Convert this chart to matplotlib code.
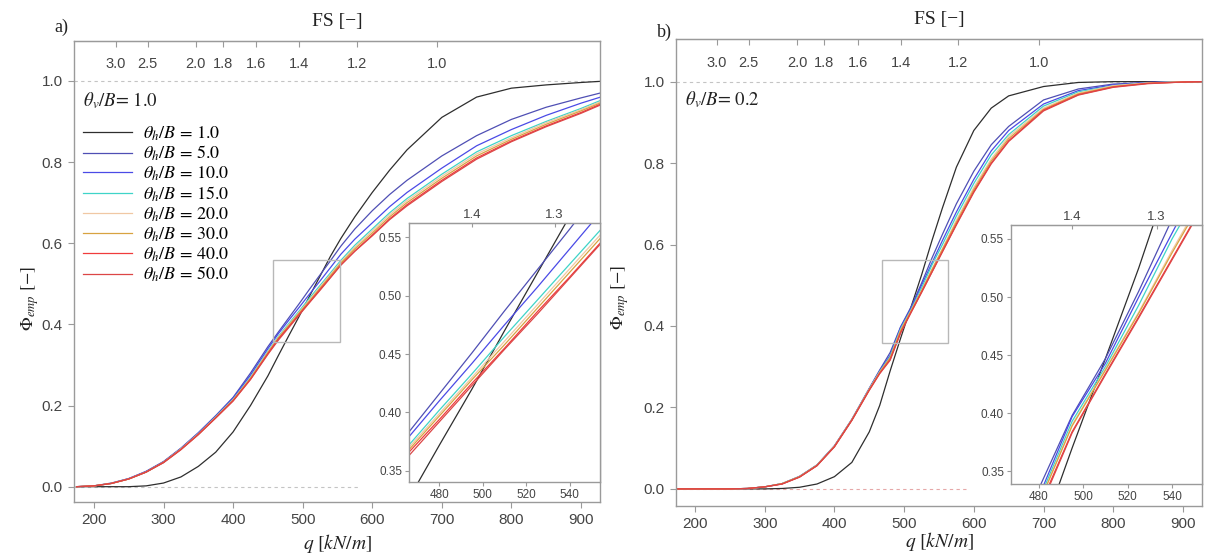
import numpy as np
import matplotlib
matplotlib.use('Agg')
import matplotlib.pyplot as plt
from matplotlib.patches import Rectangle

plt.rcParams['font.family'] = ['Liberation Sans', 'DejaVu Sans']
plt.rcParams['mathtext.fontset'] = 'stix'

# bearing capacity q [kN/m] where the empirical CDFs were read
q_grid = [175, 200, 225, 250, 275, 300, 325, 350, 375, 400, 425, 450, 465, 480, 495,
          510, 525, 540, 555, 575, 600, 625, 650, 700, 750, 800, 850, 900, 930]

theta_h = [1.0, 5.0, 10.0, 15.0, 20.0, 30.0, 40.0, 50.0]
colors = ['#2e2e2e', '#4f4fb4', '#4a4ae6', '#3fd4c8', '#f0c8a4', '#d8a340', '#f03c3c', '#dc4646']

# panel a) theta_v/B = 1.0
phi_a_1 = [0, 0, 0, 0, .002, .009, .024, .05, .085, .135, .20, .273, .323, .372, .42,
           .47, .519, .568, .612, .665, .725, .78, .83, .91, .96, .982, .99, .996, .999]
phi_a_5 = [0, .002, .009, .02, .038, .062, .095, .133, .175, .22, .28, .345, .381, .416, .451,
           .487, .522, .557, .593, .635, .68, .72, .755, .815, .865, .905, .935, .958, .971]
phi_a_10 = [0, .002, .008, .02, .037, .061, .094, .132, .174, .218, .275, .34, .377, .41, .442,
            .475, .507, .54, .573, .61, .65, .69, .725, .785, .84, .88, .915, .945, .961]
phi_a_15 = [0, .002, .008, .019, .036, .06, .093, .13, .172, .215, .27, .334, .37, .402, .433,
            .465, .496, .527, .558, .595, .635, .675, .71, .77, .825, .865, .90, .932, .953]
phi_a_20 = [0, .002, .008, .019, .036, .06, .093, .13, .171, .214, .268, .332, .368, .399, .43,
            .461, .492, .523, .554, .59, .63, .67, .705, .765, .82, .86, .897, .929, .95]
phi_a_30 = [0, .002, .008, .019, .036, .06, .092, .129, .17, .213, .267, .33, .366, .397, .428,
            .458, .489, .52, .551, .586, .625, .665, .70, .76, .815, .856, .893, .926, .947]
phi_a_40 = [0, .002, .008, .019, .036, .06, .092, .129, .17, .212, .265, .328, .364, .394, .425,
            .455, .486, .516, .547, .581, .62, .66, .695, .755, .81, .852, .889, .922, .944]
phi_a_50 = [0, .002, .008, .019, .036, .059, .091, .128, .169, .211, .264, .326, .361, .392, .423,
            .454, .484, .515, .546, .58, .618, .658, .692, .752, .807, .85, .887, .92, .942]

# panel b) theta_v/B = 0.2
phi_b_1 = [0, 0, 0, 0, 0, 0, .001, .004, .012, .03, .065, .14, .205, .29, .37,
           .447, .525, .61, .69, .79, .88, .935, .965, .988, .998, 1, 1, 1, 1]
phi_b_5 = [0, 0, 0, 0, .001, .005, .013, .031, .059, .106, .171, .247, .292, .335, .398,
           .447, .505, .567, .625, .70, .78, .845, .89, .955, .982, .994, .998, 1, 1]
phi_b_10 = [0, 0, 0, 0, .001, .005, .013, .03, .058, .105, .17, .246, .29, .328, .397,
            .443, .50, .555, .61, .68, .76, .83, .88, .945, .978, .992, .998, 1, 1]
phi_b_15 = [0, 0, 0, 0, .001, .005, .013, .03, .058, .105, .17, .245, .288, .325, .393,
            .44, .493, .55, .60, .67, .75, .82, .87, .94, .975, .99, .997, 1, 1]
phi_b_20 = [0, 0, 0, 0, .001, .005, .013, .03, .058, .105, .17, .245, .287, .322, .39,
            .438, .487, .54, .59, .66, .74, .81, .865, .935, .972, .99, .997, 1, 1]
phi_b_30 = [0, 0, 0, 0, .001, .005, .013, .03, .058, .104, .169, .244, .286, .322, .389,
            .437, .486, .538, .588, .655, .735, .805, .86, .932, .97, .988, .996, .999, 1]
phi_b_40 = [0, 0, 0, 0, .001, .005, .012, .029, .057, .104, .169, .243, .284, .318, .384,
            .434, .483, .533, .583, .65, .73, .80, .855, .93, .968, .987, .996, .999, 1]
phi_b_50 = [0, 0, 0, 0, .001, .005, .012, .029, .057, .103, .168, .242, .283, .316, .383,
            .433, .482, .532, .582, .648, .728, .798, .853, .928, .967, .986, .995, .999, 1]

curves_a = [phi_a_1, phi_a_5, phi_a_10, phi_a_15, phi_a_20, phi_a_30, phi_a_40, phi_a_50]
curves_b = [phi_b_1, phi_b_5, phi_b_10, phi_b_15, phi_b_20, phi_b_30, phi_b_40, phi_b_50]

# factor of safety axis: FS = FS_CONST / q
FS_CONST = 693.0
fs_ticks = [3.0, 2.5, 2.0, 1.8, 1.6, 1.4, 1.2, 1.0]
fs_inset_ticks = [1.4, 1.3]

SPINE = '#9a9a9a'
TXT = '#444444'
DARK = '#222222'


def fs_of_q(q):
    q = np.asarray(q, dtype=float)
    with np.errstate(divide='ignore', invalid='ignore'):
        return FS_CONST / q


def gray_box(ax):
    for s in ax.spines.values():
        s.set_color(SPINE)
        s.set_linewidth(1.0)


def draw_curves(ax, curves):
    for th, phi, col in zip(theta_h, curves, colors):
        ax.plot(q_grid, phi, color=col, lw=0.9, label=r'$\theta_h/B$ = %.1f' % th)


def panel(rect, curves, tag, tag_y, tv, xlim, ylim, zero_end, zero_col, zoom_box,
          inset_rect, inset_xlim, inset_ylim, legend):
    ax = fig.add_axes(rect)
    ax.plot(xlim, [1, 1], color='#c4c4c4', lw=0.8, ls=(0, (3, 3)), zorder=0)
    ax.plot([xlim[0], zero_end], [0, 0], color=zero_col, lw=0.8, ls=(0, (3, 3)), zorder=0)
    draw_curves(ax, curves)
    ax.add_patch(Rectangle((zoom_box[0], zoom_box[2]), zoom_box[1] - zoom_box[0],
                           zoom_box[3] - zoom_box[2], fill=False, ec='#b8b8b8', lw=1.0, zorder=3))
    ax.set_xlim(xlim)
    ax.set_ylim(ylim)
    ax.set_xticks([200, 300, 400, 500, 600, 700, 800, 900])
    ax.set_yticks([0.0, 0.2, 0.4, 0.6, 0.8, 1.0])
    ax.yaxis.set_major_formatter(matplotlib.ticker.FormatStrFormatter('%.1f'))
    ax.tick_params(direction='out', length=4, width=0.8, color=SPINE, labelcolor=TXT,
                   labelsize=11, pad=4)
    gray_box(ax)

    sec = ax.secondary_xaxis('top', functions=(fs_of_q, fs_of_q))
    sec.set_xticks(fs_ticks, labels=['%.1f' % f for f in fs_ticks])
    sec.tick_params(direction='in', length=4, width=0.8, color=SPINE, labelcolor=TXT,
                    labelsize=10.5, pad=-22)
    sec.spines['top'].set_color(SPINE)

    ax.text(0.5, 1.042, 'FS [\u2212]', transform=ax.transAxes, ha='center', va='center',
            family='Liberation Serif', fontsize=14, color=DARK)
    ax.set_xlabel(r'$q\ [kN/m]$', fontsize=14, color=DARK)
    ax.set_ylabel(r'$\Phi_{emp}$' + ' [\u2212]', fontsize=13, family='STIXGeneral', color=DARK)
    ax.text(0.017, 0.87, r'$\theta_v/B$= ' + tv, transform=ax.transAxes, ha='left', va='center',
            family='STIXGeneral', fontsize=13.5, color=DARK)
    fig.text(rect[0] - 0.016, tag_y, tag, family='Liberation Serif', fontsize=13, color=DARK)

    if legend:
        ax.legend(loc='upper left', bbox_to_anchor=(0.017, 0.819), frameon=False,
                  borderaxespad=0, borderpad=0, handlelength=2.7, handletextpad=0.6,
                  labelspacing=0.08, prop={'family': 'STIXGeneral', 'size': 13})

    ins = ax.inset_axes(inset_rect)
    draw_curves(ins, curves)
    ins.set_xlim(inset_xlim)
    ins.set_ylim(inset_ylim)
    ins.set_xticks([480, 500, 520, 540])
    ins.set_yticks([0.35, 0.40, 0.45, 0.50, 0.55])
    ins.yaxis.set_major_formatter(matplotlib.ticker.FormatStrFormatter('%.2f'))
    ins.tick_params(direction='out', length=3, width=0.8, color=SPINE, labelcolor=TXT,
                    labelsize=8.5, pad=2)
    gray_box(ins)
    isec = ins.secondary_xaxis('top', functions=(fs_of_q, fs_of_q))
    isec.set_xticks(fs_inset_ticks, labels=['%.1f' % f for f in fs_inset_ticks])
    isec.tick_params(direction='in', length=3, width=0.8, color=SPINE, labelcolor=TXT,
                     labelsize=9.5, pad=1.5)
    isec.spines['top'].set_color(SPINE)
    return ax


fig = plt.figure(figsize=(12.05, 5.58), dpi=100)

ax_a = panel([0.0614, 0.1009, 0.4365, 0.8262], curves_a, 'a)', 0.942, '1.0',
             (171.3, 927.3), (-0.037, 1.099), 582, '#c4c4c4',
             (457, 554, 0.357, 0.559), [0.637, 0.0434, 0.363, 0.561],
             (466, 554), (0.3406, 0.5623), True)
ax_a.yaxis.set_label_coords(-0.063, 0.44)
ax_a.xaxis.set_label_coords(0.5, -0.066)

ax_b = panel([0.561, 0.0932, 0.4365, 0.8364], curves_b, 'b)', 0.934, '0.2',
             (172.7, 927.4), (-0.042, 1.104), 590, '#e6a8a8',
             (468, 563, 0.358, 0.562), [0.637, 0.047, 0.363, 0.555],
             (467.5, 553.5), (0.339, 0.562), False)
ax_b.yaxis.set_label_coords(-0.086, 0.446)
ax_b.xaxis.set_label_coords(0.5, -0.052)

fig.savefig('out.png', dpi=100, facecolor='white')
